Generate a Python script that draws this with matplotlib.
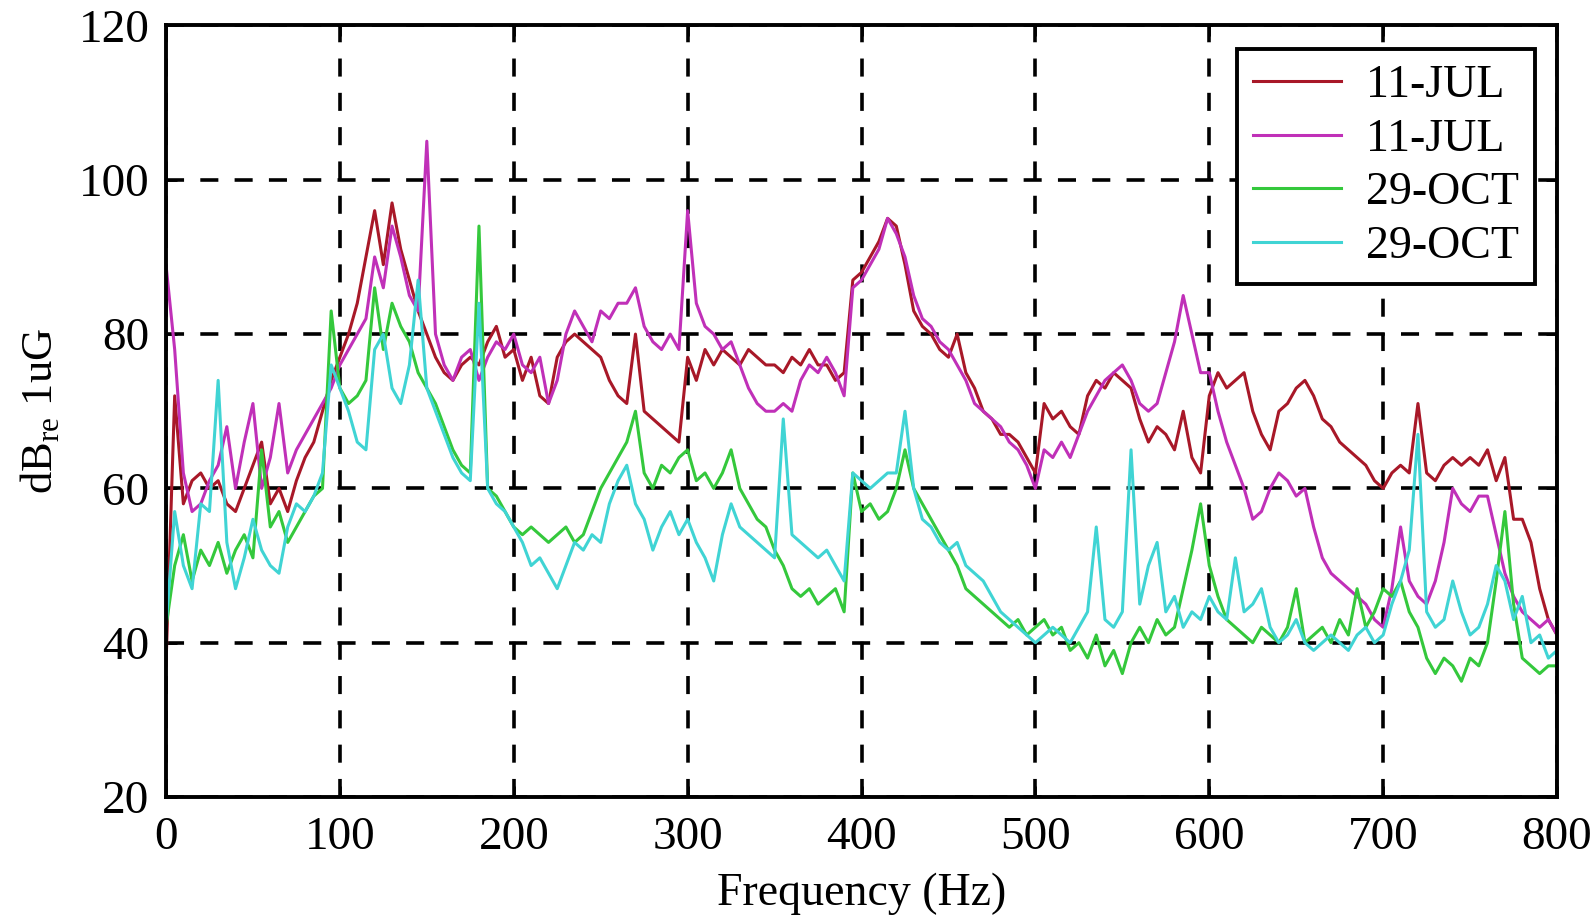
import numpy as np
import matplotlib
matplotlib.use("Agg")
import matplotlib.pyplot as plt

# frequency grid of the readings (Hz), one value every 5 Hz
freq = np.arange(0, 801, 5)

# dB re 1uG
jul_a = [37, 72, 58, 61, 62, 60, 61, 58, 57, 60,
         63, 66, 58, 60, 57, 61, 64, 66, 70, 74,
         77, 80, 84, 90, 96, 89, 97, 91, 87, 83,
         80, 77, 75, 74, 76, 77, 76, 79, 81, 77,
         78, 74, 77, 72, 71, 77, 79, 80, 79, 78,
         77, 74, 72, 71, 80, 70, 69, 68, 67, 66,
         77, 74, 78, 76, 78, 77, 76, 78, 77, 76,
         76, 75, 77, 76, 78, 76, 76, 74, 75, 87,
         88, 90, 92, 95, 94, 89, 83, 81, 80, 78,
         77, 80, 75, 73, 70, 69, 67, 67, 66, 64,
         62, 71, 69, 70, 68, 67, 72, 74, 73, 75,
         74, 73, 69, 66, 68, 67, 65, 70, 64, 62,
         72, 75, 73, 74, 75, 70, 67, 65, 70, 71,
         73, 74, 72, 69, 68, 66, 65, 64, 63, 61,
         60, 62, 63, 62, 71, 62, 61, 63, 64, 63,
         64, 63, 65, 61, 64, 56, 56, 53, 47, 43,
         41]

jul_b = [89, 78, 62, 57, 58, 61, 63, 68, 60, 66,
         71, 60, 64, 71, 62, 65, 67, 69, 71, 73,
         76, 78, 80, 82, 90, 86, 94, 90, 85, 83,
         105, 80, 76, 74, 77, 78, 74, 77, 79, 78,
         80, 76, 75, 77, 71, 74, 80, 83, 81, 79,
         83, 82, 84, 84, 86, 81, 79, 78, 80, 78,
         96, 84, 81, 80, 78, 79, 76, 73, 71, 70,
         70, 71, 70, 74, 76, 75, 77, 75, 72, 86,
         87, 89, 91, 95, 93, 90, 85, 82, 81, 79,
         78, 76, 74, 71, 70, 69, 68, 66, 65, 63,
         60, 65, 64, 66, 64, 67, 70, 72, 74, 75,
         76, 74, 71, 70, 71, 75, 79, 85, 80, 75,
         75, 70, 66, 63, 60, 56, 57, 60, 62, 61,
         59, 60, 55, 51, 49, 48, 47, 46, 45, 43,
         42, 47, 55, 48, 46, 45, 48, 53, 60, 58,
         57, 59, 59, 54, 49, 46, 44, 43, 42, 43,
         41]

oct_a = [42, 50, 54, 48, 52, 50, 53, 49, 52, 54,
         51, 65, 55, 57, 53, 55, 57, 59, 60, 83,
         73, 71, 72, 74, 86, 78, 84, 81, 79, 75,
         73, 71, 68, 65, 63, 62, 94, 60, 59, 57,
         55, 54, 55, 54, 53, 54, 55, 53, 54, 57,
         60, 62, 64, 66, 70, 62, 60, 63, 62, 64,
         65, 61, 62, 60, 62, 65, 60, 58, 56, 55,
         52, 50, 47, 46, 47, 45, 46, 47, 44, 62,
         57, 58, 56, 57, 60, 65, 60, 58, 56, 54,
         52, 50, 47, 46, 45, 44, 43, 42, 43, 41,
         42, 43, 41, 42, 39, 40, 38, 41, 37, 39,
         36, 40, 42, 40, 43, 41, 42, 47, 52, 58,
         50, 46, 43, 42, 41, 40, 42, 41, 40, 42,
         47, 40, 41, 42, 40, 43, 41, 47, 42, 44,
         47, 46, 48, 44, 42, 38, 36, 38, 37, 35,
         38, 37, 40, 48, 57, 45, 38, 37, 36, 37,
         37]

oct_b = [42, 57, 50, 47, 58, 57, 74, 53, 47, 51,
         56, 52, 50, 49, 55, 58, 57, 59, 62, 76,
         73, 70, 66, 65, 78, 80, 73, 71, 76, 87,
         73, 70, 67, 64, 62, 61, 84, 60, 58, 57,
         55, 53, 50, 51, 49, 47, 50, 53, 52, 54,
         53, 58, 61, 63, 58, 56, 52, 55, 57, 54,
         56, 53, 51, 48, 54, 58, 55, 54, 53, 52,
         51, 69, 54, 53, 52, 51, 52, 50, 48, 62,
         61, 60, 61, 62, 62, 70, 60, 56, 55, 53,
         52, 53, 50, 49, 48, 46, 44, 43, 42, 41,
         40, 41, 42, 41, 40, 42, 44, 55, 43, 42,
         44, 65, 45, 50, 53, 44, 46, 42, 44, 43,
         46, 44, 43, 51, 44, 45, 47, 42, 40, 41,
         43, 40, 39, 40, 41, 40, 39, 41, 42, 40,
         41, 45, 48, 52, 67, 44, 42, 43, 48, 44,
         41, 42, 45, 50, 48, 43, 46, 40, 41, 38,
         39]

labels = ["11-JUL", "11-JUL", "29-OCT", "29-OCT"]
colors = ["#a81828", "#c030b8", "#34c83c", "#40d4d4"]

plt.rcParams['font.family'] = ['Liberation Serif', 'DejaVu Serif']
plt.rcParams['mathtext.fontset'] = 'custom'
plt.rcParams['mathtext.rm'] = 'Liberation Serif'

fig = plt.figure(figsize=(15.96, 9.23), dpi=100)
ax = fig.add_axes([0.104, 0.1365, 0.8716, 0.8359])

for vals, lab, col in zip([jul_a, jul_b, oct_a, oct_b], labels, colors):
    ax.plot(freq, vals, color=col, lw=2.2, label=lab)

ax.set_xlim(0, 800)
ax.set_ylim(20, 120)
ax.set_xticks(range(0, 801, 100))
ax.set_yticks(range(20, 121, 20))
ax.grid(True, color='black', linestyle=(0, (5, 4.5)), linewidth=2.6)
ax.tick_params(direction='in', length=8, width=2, top=True, right=True,
               labelsize=34)
ax.tick_params(axis='x', pad=14)
ax.tick_params(axis='y', pad=12)
for s in ax.spines.values():
    s.set_linewidth(2.8)

ax.set_xlabel("Frequency (Hz)", fontsize=33, labelpad=10)
ax.set_ylabel(r"dB$_{\rm re}$ 1uG", fontsize=32, labelpad=12)

leg = ax.legend(loc='upper right', bbox_to_anchor=(0.984, 0.97),
                fontsize=33, frameon=True, fancybox=False, handlelength=1.9,
                labelspacing=0.24, borderpad=0.35, handletextpad=0.55,
                borderaxespad=0)
leg.get_frame().set_edgecolor('black')
leg.get_frame().set_linewidth(2.8)
leg.get_frame().set_alpha(1)

fig.savefig("out.png", dpi=100)
